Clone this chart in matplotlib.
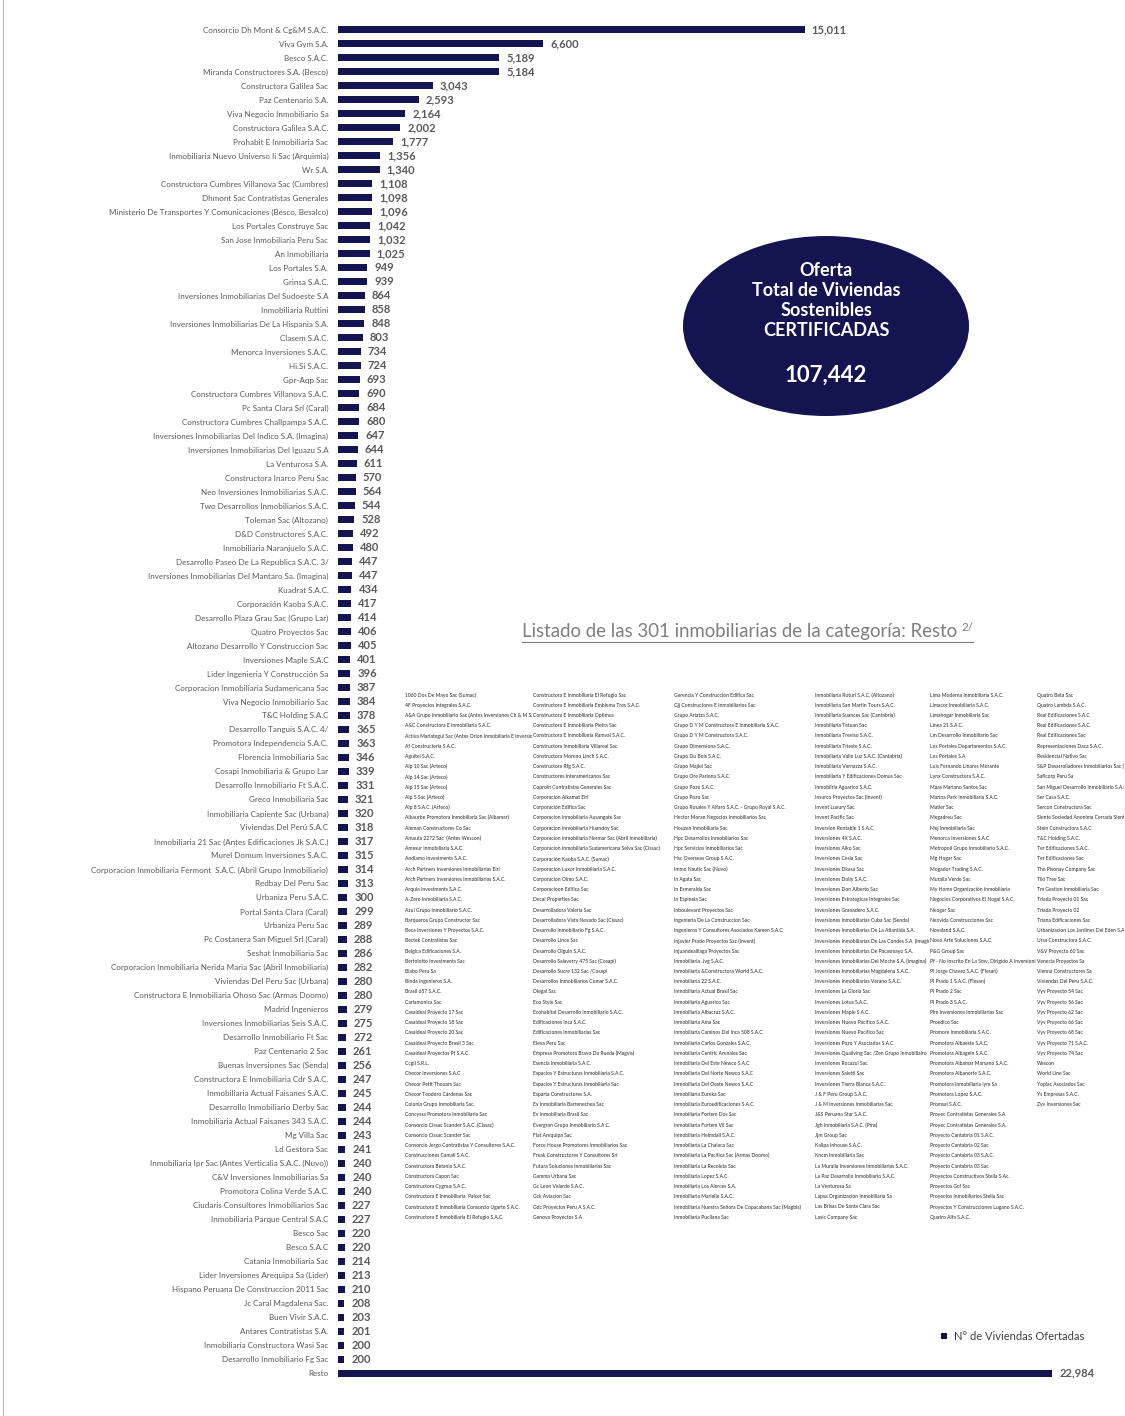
import matplotlib
matplotlib.use('Agg')
import matplotlib.pyplot as plt
from matplotlib.patches import Ellipse, Rectangle
from matplotlib.lines import Line2D

W, H = 1125, 1416

categories = [
    "Consorcio Dh Mont & Cg&M S.A.C.", "Viva Gym S.A.", "Besco S.A.C.", "Miranda Constructores S.A. (Besco)",
    "Constructora Galilea Sac", "Paz Centenario S.A.", "Viva Negocio Inmobiliario Sa", "Constructora Galilea S.A.C.",
    "Prohabit E Inmobiliaria Sac", "Inmobiliaria Nuevo Universo Ii Sac (Arquimia)", "Wr S.A.",
    "Constructora Cumbres Villanova Sac (Cumbres)", "Dhmont Sac Contratistas Generales",
    "Ministerio De Transportes Y Comunicaciones (Besco, Besalco)", "Los Portales Construye Sac",
    "San Jose Inmobiliaria Peru Sac", "An Inmobiliaria", "Los Portales S.A.", "Grinsa S.A.C.",
    "Inversiones Inmobiliarias Del Sudoeste S.A", "Inmobiliaria Ruttini",
    "Inversiones Inmobiliarias De La Hispania S.A.", "Clasem S.A.C.", "Menorca Inversiones S.A.C.",
    "Hi.Si S.A.C.", "Gpr-Aqp Sac", "Constructora Cumbres Villanova S.A.C.", "Pc Santa Clara Srl (Caral)",
    "Constructora Cumbres Challpampa S.A.C.", "Inversiones Inmobiliarias Del Indico S.A. (Imagina)",
    "Inversiones Inmobiliarias Del Iguazu S.A", "La Venturosa S.A.", "Constructora Inarco Peru Sac",
    "Neo Inversiones Inmobiliarias S.A.C.", "Two Desarrollos Inmobiliarios S.A.C.", "Toleman Sac (Altozano)",
    "D&D Constructores S.A.C.", "Inmobiliaria Naranjuelo S.A.C.", "Desarrollo Paseo De La Republica S.A.C. 3/",
    "Inversiones Inmobiliarias Del Mantaro Sa. (Imagina)", "Kuadrat S.A.C.", "Corporación Kaoba S.A.C.",
    "Desarrollo Plaza Grau Sac (Grupo Lar)", "Quatro Proyectos Sac", "Altozano Desarrollo Y Construccion Sac",
    "Inversiones Maple S.A.C", "Lider Ingenieria Y Construcción Sa", "Corporacion Inmobiliaria Sudamericana Sac",
    "Viva Negocio Inmobiliario Sac", "T&C Holding S.A.C", "Desarrollo Tanguis S.A.C. 4/",
    "Promotora Independencia S.A.C.", "Florencia Inmobiliaria Sac", "Cosapi Inmobiliaria & Grupo Lar",
    "Desarrollo Inmobiliario Ft S.A.C.", "Greco Inmobiliaria Sac", "Inmobiliaria Capiente Sac (Urbana)",
    "Viviendas Del Perú S.A.C", "Inmobiliaria 21 Sac (Antes Edificaciones Jk S.A.C.)",
    "Murel Domum Inversiones S.A.C.", "Corporacion Inmobiliaria Fermont  S.A.C. (Abril Grupo Inmobiliario)",
    "Redbay Del Peru Sac", "Urbaniza Peru S.A.C.", "Portal Santa Clara (Caral)", "Urbaniza Peru Sac",
    "Pc Costanera San Miguel Srl (Caral)", "Seshat Inmobiliaria Sac",
    "Corporacion Inmobiliaria Nerida Maria Sac (Abril Inmobiliaria)", "Viviendas Del Peru Sac (Urbana)",
    "Constructora E Inmobiliaria Ohoso Sac (Armas Doomo)", "Madrid Ingenieros",
    "Inversiones Inmobiliarias Seis S.A.C.", "Desarrollo Inmobiliario Ft Sac", "Paz Centenario 2 Sac",
    "Buenas Inversiones Sac (Senda)", "Constructora E Inmobiliaria Cdr S.A.C.",
    "Inmobiliaria Actual Faisanes S.A.C.", "Desarrollo Inmobiliario Derby Sac",
    "Inmobiliaria Actual Faisanes 343 S.A.C.", "Mg Villa Sac", "Ld Gestora Sac",
    "Inmobiliaria Ipr Sac (Antes Verticalia S.A.C. (Nuvo))", "C&V Inversiones Inmobiliarias Sa",
    "Promotora Colina Verde S.A.C.", "Ciudaris Consultores Inmobiliarios Sac",
    "Inmobiliaria Parque Central S.A.C", "Besco Sac", "Besco S.A.C", "Catania Inmobiliaria Sac",
    "Lider Inversiones Arequipa Sa (Lider)", "Hispano Peruana De Construccion 2011 Sac",
    "Jc Caral Magdalena Sac.", "Buen Vivir S.A.C.", "Antares Contratistas S.A.",
    "Inmobiliaria Constructora Wasi Sac", "Desarrollo Inmobiliario Fg Sac", "Resto",
]

values = [
    15011, 6600, 5189, 5184, 3043, 2593, 2164, 2002, 1777, 1356, 1340, 1108, 1098, 1096, 1042, 1032, 1025,
    949, 939, 864, 858, 848, 803, 734, 724, 693, 690, 684, 680, 647, 644, 611, 570, 564, 544, 528, 492, 480,
    447, 447, 434, 417, 414, 406, 405, 401, 396, 387, 384, 378, 365, 363, 346, 339, 331, 321, 320, 318, 317,
    315, 314, 313, 300, 299, 289, 288, 286, 282, 280, 280, 279, 275, 272, 261, 256, 247, 245, 244, 244, 243,
    241, 240, 240, 240, 227, 227, 220, 220, 214, 213, 210, 208, 203, 201, 200, 200, 22984,
]

total_label = "107,442"
ellipse_lines = ["Oferta", "Total de Viviendas", "Sostenibles", "CERTIFICADAS"]
list_title = "Listado de las 301 inmobiliarias de la categoría: Resto"
list_title_sup = "2/"
legend_label = "N° de Viviendas Ofertadas"

list_col1 = [
    "1060 Dos De Mayo Sac (Sumac)", "4F Proyectos Integrales S.A.C.",
    "A&A Grupo Inmobiliario Sac (Antes Inversiones Ch & M Sac)", "A&C Constructora E Inmobiliaria S.A.C.",
    "Activa Mariategui Sac (Antes Orion Inmobiliaria E Inversiones)", "Af Constructeria S.A.C.", "Aguitel S.A.C.",
    "Alp 10 Sac (Arteco)", "Alp 14 Sac (Arteco)", "Alp 15 Sac (Arteco)", "Alp 5 Sac (Arteco)", "Alp 8 S.A.C. (Arteco)",
    "Albaurbe Promotora Inmobiliaria Sac (Albamar)", "Aleman Constructores Co Sac", "Amauta 2272 Sac  (Antes Wescon)",
    "Amesur Inmobiliaria S.A.C.", "Andiamo Investments S.A.C.", "Arch Partners Inversiones Inmobiliarias Eirl",
    "Arch Partners Inversiones Inmobiliarias S.A.C.", "Arquia Investments S.A.C.", "A-Zero Inmobiliaria S.A.C.",
    "Azul Grupo Inmobiliario S.A.C.", "Barqueros Grupo Constructor Sac", "Beca Inversiones Y Proyectos S.A.C.",
    "Bectek Contratistas Sac", "Belgica Edificaciones S.A.", "Bertolotto Investments Sac", "Blabo Peru Sa",
    "Binda Ingenieros S.A.", "Brasil 657 S.A.C.", "Carlamonica Sac", "Casaideal Proyecto 17 Sac",
    "Casaideal Proyecto 18 Sac", "Casaideal Proyecto 20 Sac", "Casaideal Proyecto Brasil 3 Sac",
    "Casaideal Proyectos Pt S.A.C.", "Ccgil S.R.L.", "Checor Inversiones S.A.C", "Checor Petit Thouars Sac",
    "Checor Teodoro Cárdenas Sac", "Colonia Grupo Inmobiliaria Sac.", "Concyssa Promotora Inmobiliaria Sac",
    "Consorcio Cissac Scander S.A.C. (Cissac)", "Consorcio Cissac Scander Sac",
    "Consorcio Jergo Contratistas Y Consultores S.A.C.", "Construcciones Camall S.A.C.",
    "Constructora Betania S.A.C.", "Constructora Capon Sac", "Constructora Cygnus S.A.C.",
    "Constructora E Inmobiliaria  Palcer Sac", "Constructora E Inmobiliaria Consorcio Ugarte S.A.C.",
    "Constructora E Inmobiliaria El Refugio S.A.C.",
]
list_col2 = [
    "Constructora E Inmobiliaria El Refugio Sac", "Constructora E Inmobiliaria Emblema Tres S.A.C.",
    "Constructora E Inmobiliaria Optimus", "Constructora E Inmobiliaria Pietra Sac",
    "Constructora E Inmobiliaria Ramval S.A.C.", "Constructora Inmobiliaria Villareal Sac",
    "Constructora Moreno Linch S.A.C.", "Constructora Rfg S.A.C.", "Constructores Interamericanos Sac",
    "Coproin Contratistas Generales Sac", "Corporacion Alkamat Eirl", "Corporación Edifica Sac",
    "Corporacion Inmobiliaria Ausangate Sac", "Corporacion Inmobiliaria Huandoy Sac",
    "Corporacion Inmobiliaria Nermar Sac (Abril Inmobiliaria)",
    "Corporacion Inmobiliaria Sudamericana Selva Sac (Cissac)", "Corporación Kaoba S.A.C. (Sumac)",
    "Corporacion Luxor Inmobiliaria S.A.C.", "Corporacion Olmo S.A.C.", "Corporacioon Edifica Sac",
    "Decal Properties Sac", "Desarrolladora Valeria Sac", "Desarrolladora Vista Nevado Sac (Cissac)",
    "Desarrollo Inmobiliario Fg S.A.C.", "Desarrollo Lince Sac", "Desarrollo Olguin S.A.C.",
    "Desarrollo Salaverry 475 Sac (Cosapi)", "Desarrollo Sucre 132 Sac /Cosapi",
    "Desarrollos Inmobiliarios Comar S.A.C.", "Diegal Sac", "Eco Style Sac",
    "Ecohabitat Desarrollo Inmobiliario S.A.C.", "Edificaciones Inca S.A.C.", "Edificaciones Inmobiliarias Sac",
    "Eleva Peru Sac", "Empresa Promotora Bravo De Rueda (Magvis)", "Esencia Inmobiliaria S.A.C.",
    "Espacios Y Estructuras Inmobiliaria S.A.C.", "Espacios Y Estructuras Inmobiliaria Sac",
    "Esparta Constructores S.A.", "Ev Inmobiliaria Barrenechea Sac", "Ev Inmobiliaria Brasil Sac",
    "Evergran Grupo Inmobiliario S.A.C.", "Flat Arequipa Sac", "Force House Promotores Inmobiliarios Sac",
    "Freak Constructores Y Consultores Srl", "Futura Soluciones Inmobiliarias Sac", "Gamma Urbana Sac",
    "Gc Leon Velarde S.A.C.", "Gck Aviacion Sac", "Gdc Proyectos Peru A S.A.C.", "Genova Proyectos S.A",
]
list_col3 = [
    "Gerencia Y Construccion Edifica Sac", "Gjj Constructores E Inmobiliarios Sac", "Grupo Ariatza S.A.C.",
    "Grupo D Y M Constructora E Inmobiliaria S.A.C.", "Grupo D Y M Constructora S.A.C.",
    "Grupo Dimensiona S.A.C.", "Grupo Du Bois S.A.C.", "Grupo Majiel Sac", "Grupo Ore Pariona S.A.C.",
    "Grupo Pozo S.A.C.", "Grupo Pozo Sac", "Grupo Rosales Y Alfaro S.A.C. - Grupo Royal S.A.C.",
    "Hector Moran Negocios Inmobiliarios Sac", "Houzen Inmobiliaria Sac", "Hpc Desarrollos Inmobiliarios Sac",
    "Hpc Servicios Inmobiliarios Sac", "Hsc Overseas Group S.A.C.", "Immo Nautic Sac (Nuvo)", "In Agata Sac",
    "In Esmeralda Sac", "In Espinela Sac", "Inboulevard Proyectos Sac", "Ingenieria De La Construccion Sac",
    "Ingenieros Y Consultores Asociados Kamen S.A.C", "Injavier Prado Proyectos Sac (Invent)",
    "Injuandeaillaga Proyectos Sac", "Inmobiliaria .Jvg S.A.C.", "Inmobiliaria &Constructora World S.A.C.",
    "Inmobiliaria 22 S.A.C.", "Inmobiliaria Actual Brasil Sac", "Inmobiliaria Aguarico Sac",
    "Inmobiliaria Albacruz S.A.C.", "Inmobiliaria Ama Sac", "Inmobiliaria Caminos Del Inca 508 S.A.C",
    "Inmobiliaria Carlos Gonzales S.A.C.", "Inmobiliaria Centric Arenales Sac", "Inmobiliaria Del Este Newco S.A.C",
    "Inmobiliaria Del Norte Newco S.A.C", "Inmobiliaria Del Oeste Newco S.A.C", "Inmobiliaria Eureka Sac",
    "Inmobiliaria Euroedificaciones S.A.C.", "Inmobiliaria Fortem Dos Sac", "Inmobiliaria Fortem Vii Sac",
    "Inmobiliaria Heimdall S.A.C.", "Inmobiliaria La Chalaca Sac", "Inmobiliaria La Pacifica Sac (Armas Doomo)",
    "Inmobiliaria La Recoleta Sac", "Inmobiliaria Lopez S.A.C.", "Inmobiliaria Los Alerces S.A.",
    "Inmobiliaria Marielle S.A.C.", "Inmobiliaria Nuestra Señora De Copacabana Sac (Magbis)",
    "Inmobiliaria Pucllana Sac",
]
list_col4 = [
    "Inmobiliaria Ruturi S.A.C. (Altozano)", "Inmobiliaria San Martin Tours S.A.C.",
    "Inmobiliaria Suances Sac (Cantabria)", "Inmobiliaria Tetuan Sac", "Inmobiliaria Treviso S.A.C.",
    "Inmobiliaria Trieste S.A.C.", "Inmobiliaria Valle Luz S.A.C. (Cantabria)", "Inmobiliaria Vernazza S.A.C.",
    "Inmobiliaria Y Edificaciones Domus Sac", "Inmobilria Aguarico S.A.C.", "Insurco Proyectos Sac (Invent)",
    "Invent Luxury Sac", "Invent Pacific Sac", "Inversion Rentable 1 S.A.C.", "Inversiones 4X S.A.C.",
    "Inversiones Alko Sac", "Inversiones Cesla Sac", "Inversiones Dkasa Sac", "Inversiones Dolly S.A.C.",
    "Inversiones Don Alberto Sac", "Inversiones Estrategicas Integrales Sac", "Inversiones Granadero S.A.C.",
    "Inversiones Inmobiliarias Cuba Sac (Senda)", "Inversiones Inmobiliarias De La Atlantida S.A.",
    "Inversiones Inmobiliarias De Las Condes S.A. (Imagina)", "Inversiones Inmobiliarias De Pacasmayo S.A.",
    "Inversiones Inmobiliarias Del Moche S.A. (Imagina)", "Inversiones Inmobiliarias Magdalena S.A.C.",
    "Inversiones Inmobiliarias Verano S.A.C.", "Inversiones La Gloria Sac", "Inversiones Lotus S.A.C.",
    "Inversiones Maple S.A.C.", "Inversiones Nuevo Pacifico S.A.C.", "Inversiones Nuevo Pacifico Sac",
    "Inversiones Pozo Y Asociados S.A.C", "Inversiones Qualiving Sac /Zen Grupo Inmobiliairo",
    "Inversiones Rocazul Sac", "Inversiones Saletti Sac", "Inversiones Tierra Blanca S.A.C.",
    "J & F Peru Group S.A.C.", "J & M Inversiones Inmobiliarias Sac", "J&S Peruana Star S.A.C.",
    "Jgh Inmobiliaria S.A.C. (Pms)", "Jjm Group Sac", "Kallpa Inhouse S.A.C.", "Kncm Inmobiliaria Sac",
    "La Muralla Inversiones Inmobiliarias S.A.C.", "La Paz Desarrollo Inmobiliario S.A.C.", "La Venturosa Sa",
    "Lapsa Organización Inmobiliaria Sa", "Las Brisas De Santa Clara Sac", "Lasic Company Sac",
]
list_col5 = [
    "Lima Moderna Inmobiliaria S.A.C.", "Limacor Inmobiliaria S.A.C.", "Limahogar Inmobiliaria Sac",
    "Linea 21 S.A.C.", "Lm Desarrollo Inmobiliario Sac", "Los Portales Departamentos S.A.C.", "Los Portales S.A",
    "Luis Fernando Linares Morante", "Lynx Constructora S.A.C.", "Maas Mariano Santos Sac",
    "Marina Park Inmobiliaria S.A.C.", "Matier Sac", "Megadreu Sac", "Mej Inmobiliaria Sac",
    "Menorca Inversiones S.A.C", "Metropoli Grupo Inmobiliario S.A.C.", "Mg Hogar Sac", "Mogador Trading S.A.C.",
    "Muralla Verde Sac", "My Home Organización Inmobiliaria", "Negocios Corporativos El Nogal S.A.C.",
    "Neogar Sac", "Neovida Construcciones Sac", "Novaland S.A.C.", "Novo Arte Soluciones S.A.C.", "P&G Group Sac",
    "Pf - No Inscrito En La Smv, Dirigido A Inversionistas", "Pl Jorge Chavez S.A.C. (Flesan)",
    "Pl Prado 1 S.A.C. (Flesan)", "Pl Prado 2 Sac", "Pl Prado 3 S.A.C.", "Plm Inversiones Inmobiliarias Sac",
    "Proedico Sac", "Promore Inmobiliaria S.A.C.", "Promotora Albaeste S.A.C.", "Promotora Albagein S.A.C.",
    "Promotora Albamar Marsano S.A.C.", "Promotora Albanorte S.A.C.", "Promotora Inmobiliaria Iym Sa",
    "Promotora Lopez S.A.C.", "Promsal S.A.C.", "Proyec Contratistas Generales S.A",
    "Proyec Contratistas Generales S.A.", "Proyecto Cantabria 01 S.A.C.", "Proyecto Cantabria 02 Sac",
    "Proyecto Cantabria 03 S.A.C.", "Proyecto Cantabria 03 Sac", "Proyectos Constructivos Stella S.Ac.",
    "Proyectos Gcf Sac", "Proyectos Inmobiliarios Stella Sac", "Proyectos Y Construcciones Lugano S.A.C.",
    "Quatro Alfa S.A.C.",
]
list_col6 = [
    "Quatro Beta Sac", "Quatro Lambda S.A.C.", "Real Edificaciones S.A.C", "Real Edificaciones S.A.C.",
    "Real Edificaciones Sac", "Representaciones Daca S.A.C.", "Residencial Nativo Sac",
    "S&P Desarrolladores Inmobiliarios Sac (Grupo)", "Saflcorp Peru Sa", "San Miguel Desarrollo Inmobiliario S.A.C.",
    "Ser Casa S.A.C.", "Sercon Constructora Sac", "Siente Sociedad Anonima Cerrada Siente",
    "Stein Constructora S.A.C", "T&C Holding S.A.C.", "Ter Edificaciones S.A.C.", "Ter Edificaciones Sac",
    "The Pisonay Company Sac", "Tiki Tree Sac", "Tm Gestion Inmobiliaria Sac", "Triada Proyecto 01 Sac",
    "Triada Proyecto 02", "Triana Edificaciones Sac", "Urbanizacion Los Jardines Del Eden S.A.C",
    "Ursa Constructora S.A.C.", "V&V Proyecto 60 Sac", "Venecia Proyectos Sa", "Vienna Constructores Sa",
    "Viviendas Del Peru S.A.C.", "Vyv Proyecto 54 Sac", "Vyv Proyecto 56 Sac", "Vyv Proyecto 62 Sac",
    "Vyv Proyecto 66 Sac", "Vyv Proyecto 68 Sac", "Vyv Proyecto 71 S.A.C.", "Vyv Proyecto 74 Sac", "Wescon",
    "World Line Sac", "Yoplac Asociados Sac", "Ys Empresas S.A.C.", "Zyv Inversiones Sac",
]

NAVY = '#141450'
GRAY = '#595959'
SANS = ['Lato', 'DejaVu Sans']

plt.rcParams['font.family'] = SANS

fig = plt.figure(figsize=(W / 100, H / 100), dpi=100)
fig.patch.set_facecolor('white')


def fx(px):
    return px / W


def fy(py):
    return 1 - py / H


# ---- main bar chart ----
px_per_unit = 0.03108
ax = fig.add_axes([fx(338), fy(1380), fx(1110) - fx(338), (1380 - 23) / H])
ypos = list(range(len(categories)))
ax.barh(ypos, values, height=0.5, color=NAVY)
ax.set_ylim(len(categories) - 0.5, -0.5)
ax.set_xlim(0, 772 / px_per_unit)
ax.set_yticks(ypos)
ax.set_yticklabels(categories, fontsize=5.8, color=GRAY)
ax.tick_params(axis='y', length=0, pad=7)
ax.set_xticks([])
for s in ax.spines.values():
    s.set_visible(False)
ax.set_facecolor('none')
for yi, v in zip(ypos, values):
    ax.annotate(f'{v:,}', (v, yi), xytext=(5, 0), textcoords='offset points',
                va='center', ha='left', fontsize=8, fontweight='bold', color=GRAY)

# ---- ellipse callout ----
fig.add_artist(Ellipse((fx(826), fy(326)), 286 / W, 180 / H, transform=fig.transFigure,
                       facecolor=NAVY, edgecolor='none'))
for k, line in enumerate(ellipse_lines):
    fig.text(fx(826), fy(271 + 20 * k), line, ha='center', va='center', color='white',
             fontsize=13, fontweight='bold')
fig.text(fx(826), fy(375), total_label, ha='center', va='center', color='white',
         fontsize=16, fontweight='bold')

# ---- list title ----
t = fig.text(fx(522), fy(632), list_title, ha='left', va='center', color='#7f7f7f', fontsize=13.4)
fig.canvas.draw()
bb = t.get_window_extent()
x_end = bb.x1 / W
sup = fig.text(x_end + 4 / W, fy(627), list_title_sup, ha='left', va='center', color='#7f7f7f', fontsize=8.5)
fig.canvas.draw()
bb2 = sup.get_window_extent()
fig.add_artist(Line2D([bb.x0 / W, bb2.x1 / W], [bb.y0 / H - 1 / H, bb.y0 / H - 1 / H],
                      transform=fig.transFigure, color='#7f7f7f', lw=0.8))

# ---- list columns ----
col_x = [405, 533, 674, 815, 930, 1037, 1125]
cols = [list_col1, list_col2, list_col3, list_col4, list_col5, list_col6]
y0_px, dy_px = 695, 10.24
top_px, bot_px = 688, 1228
for i, col in enumerate(cols):
    x0, x1 = col_x[i], col_x[i + 1] - 1
    cax = fig.add_axes([fx(x0), fy(bot_px), (x1 - x0) / W, (bot_px - top_px) / H])
    cax.set_axis_off()
    cax.set_xlim(0, x1 - x0)
    cax.set_ylim(bot_px, top_px)
    for j, name in enumerate(col):
        cax.text(0, y0_px + j * dy_px, name, ha='left', va='center', fontsize=3.6,
                 color='#262626', clip_on=True)

# ---- legend ----
fig.add_artist(Rectangle((fx(941), fy(1339)), 6 / W, 6 / H, transform=fig.transFigure,
                         facecolor=NAVY, edgecolor='none'))
fig.text(fx(954), fy(1336), legend_label, ha='left', va='center', fontsize=8, color='#404040')

# ---- left frame line ----
fig.add_artist(Line2D([fx(3), fx(3)], [0, 1], transform=fig.transFigure, color='#bfbfbf', lw=0.8))

fig.savefig('out.png', dpi=100, facecolor='white')
